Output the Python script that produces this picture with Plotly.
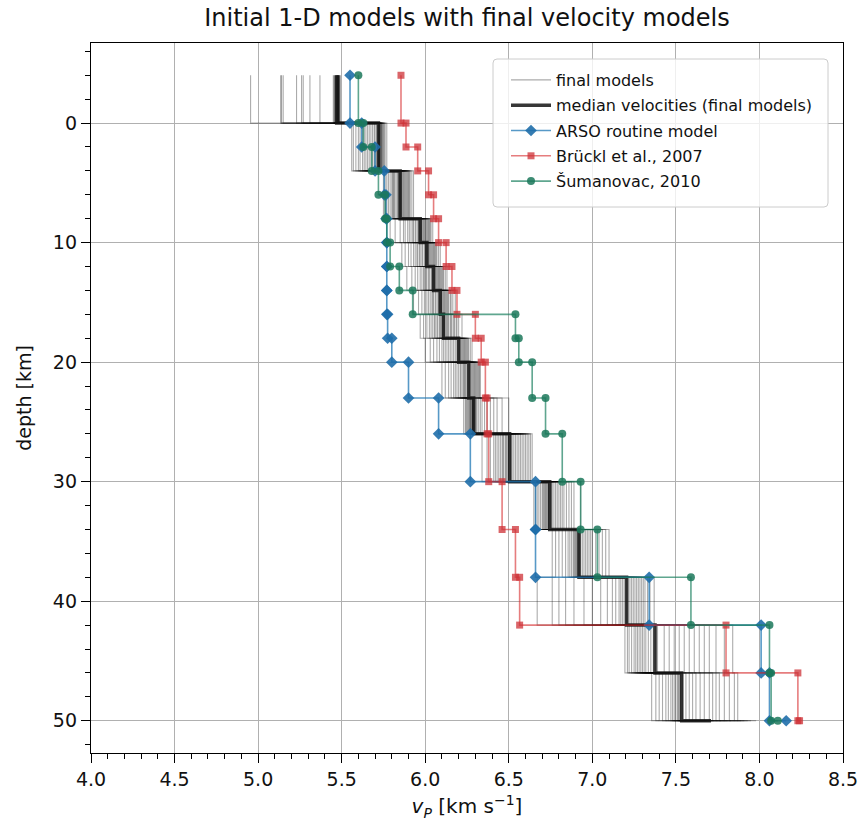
import plotly.graph_objects as go

# ---------------- data ----------------
# layer tops of the final models (last entry = half-space top)
FINAL_TOPS = [-4, 0, 4, 8, 10, 12, 14, 16, 18, 20, 23, 26, 30, 34, 38, 42, 46, 50]

# velocities of the ~30 final models, one list per layer (read/estimated from picture)
FV_L00 = [4.955, 5.135, 5.14, 5.15, 5.23, 5.26, 5.27, 5.31, 5.37, 5.45, 5.455, 5.46, 5.46, 5.465, 5.47,
          5.47, 5.47, 5.475, 5.475, 5.475, 5.48, 5.48, 5.48, 5.48, 5.48, 5.485, 5.485, 5.485, 5.49, 5.49]
FV_L01 = [5.56, 5.57, 5.585, 5.60, 5.61, 5.625, 5.635, 5.645, 5.655, 5.665, 5.675, 5.685, 5.695, 5.70, 5.71,
          5.72, 5.72, 5.725, 5.725, 5.73, 5.73, 5.735, 5.735, 5.74, 5.74, 5.745, 5.75, 5.755, 5.76, 5.77]
FV_L02 = [5.75, 5.76, 5.77, 5.78, 5.79, 5.80, 5.805, 5.81, 5.815, 5.82, 5.83, 5.835, 5.84, 5.845, 5.85,
          5.85, 5.855, 5.86, 5.865, 5.87, 5.875, 5.88, 5.885, 5.89, 5.895, 5.90, 5.905, 5.91, 5.92, 5.93]
FV_L03 = [5.79, 5.82, 5.85, 5.87, 5.88, 5.895, 5.905, 5.915, 5.925, 5.93, 5.94, 5.945, 5.955, 5.96, 5.965,
          5.97, 5.975, 5.98, 5.985, 5.99, 5.995, 6.00, 6.005, 6.01, 6.015, 6.02, 6.025, 6.03, 6.035, 6.045]
FV_L04 = [5.86, 5.88, 5.90, 5.915, 5.93, 5.94, 5.95, 5.955, 5.965, 5.97, 5.98, 5.985, 5.995, 6.00, 6.005,
          6.01, 6.015, 6.02, 6.025, 6.03, 6.035, 6.04, 6.045, 6.05, 6.055, 6.06, 6.065, 6.07, 6.08, 6.09]
FV_L05 = [5.89, 5.92, 5.94, 5.955, 5.97, 5.98, 5.99, 5.995, 6.005, 6.01, 6.02, 6.025, 6.035, 6.04, 6.045,
          6.05, 6.055, 6.06, 6.065, 6.07, 6.075, 6.08, 6.085, 6.09, 6.095, 6.10, 6.105, 6.11, 6.12, 6.13]
FV_L06 = [5.93, 5.96, 5.98, 5.995, 6.01, 6.02, 6.03, 6.04, 6.045, 6.05, 6.06, 6.065, 6.075, 6.08, 6.085,
          6.09, 6.095, 6.10, 6.105, 6.11, 6.115, 6.12, 6.125, 6.13, 6.135, 6.14, 6.15, 6.155, 6.165, 6.18]
FV_L07 = [5.97, 5.99, 6.01, 6.025, 6.035, 6.045, 6.055, 6.06, 6.07, 6.075, 6.085, 6.09, 6.095, 6.10, 6.105,
          6.11, 6.115, 6.125, 6.13, 6.135, 6.14, 6.15, 6.155, 6.16, 6.17, 6.175, 6.185, 6.19, 6.20, 6.22]
FV_L08 = [6.00, 6.03, 6.05, 6.07, 6.085, 6.10, 6.11, 6.12, 6.13, 6.14, 6.15, 6.16, 6.17, 6.18, 6.19,
          6.20, 6.205, 6.21, 6.215, 6.22, 6.225, 6.23, 6.235, 6.24, 6.245, 6.25, 6.255, 6.26, 6.27, 6.28]
FV_L09 = [6.10, 6.12, 6.14, 6.155, 6.17, 6.18, 6.19, 6.20, 6.21, 6.215, 6.225, 6.23, 6.235, 6.24, 6.245,
          6.26, 6.265, 6.27, 6.275, 6.28, 6.285, 6.29, 6.295, 6.30, 6.305, 6.31, 6.315, 6.32, 6.325, 6.33]
FV_L10 = [6.23, 6.24, 6.245, 6.25, 6.255, 6.26, 6.265, 6.27, 6.27, 6.275, 6.28, 6.28, 6.285, 6.285, 6.29,
          6.29, 6.295, 6.30, 6.305, 6.31, 6.32, 6.33, 6.34, 6.355, 6.37, 6.39, 6.41, 6.43, 6.46, 6.50]
FV_L11 = [6.34, 6.37, 6.39, 6.41, 6.42, 6.43, 6.44, 6.45, 6.46, 6.465, 6.47, 6.48, 6.485, 6.49, 6.50,
          6.51, 6.515, 6.52, 6.53, 6.54, 6.55, 6.56, 6.57, 6.58, 6.59, 6.60, 6.61, 6.62, 6.63, 6.64]
FV_L12 = [6.65, 6.66, 6.67, 6.68, 6.69, 6.70, 6.705, 6.71, 6.715, 6.72, 6.725, 6.73, 6.735, 6.74, 6.74,
          6.75, 6.755, 6.76, 6.77, 6.78, 6.79, 6.80, 6.81, 6.82, 6.83, 6.845, 6.86, 6.875, 6.89, 6.93]
FV_L13 = [6.76, 6.78, 6.80, 6.82, 6.84, 6.855, 6.865, 6.875, 6.885, 6.89, 6.895, 6.90, 6.905, 6.91, 6.915,
          6.92, 6.925, 6.93, 6.94, 6.95, 6.96, 6.97, 6.98, 6.99, 7.00, 7.02, 7.04, 7.06, 7.08, 7.10]
FV_L14 = [6.67, 6.76, 6.80, 6.84, 6.89, 6.95, 7.00, 7.05, 7.09, 7.12, 7.14, 7.16, 7.17, 7.18, 7.19,
          7.205, 7.215, 7.225, 7.235, 7.245, 7.255, 7.265, 7.275, 7.285, 7.295, 7.305, 7.315, 7.33, 7.345, 7.37]
FV_L15 = [7.195, 7.21, 7.22, 7.235, 7.25, 7.26, 7.27, 7.28, 7.29, 7.30, 7.31, 7.32, 7.335, 7.35, 7.365,
          7.38, 7.39, 7.43, 7.46, 7.49, 7.52, 7.55, 7.58, 7.61, 7.64, 7.67, 7.70, 7.74, 7.79, 7.84]
FV_L16 = [7.355, 7.38, 7.40, 7.42, 7.44, 7.455, 7.47, 7.48, 7.49, 7.50, 7.51, 7.515, 7.52, 7.525, 7.53,
          7.54, 7.56, 7.58, 7.60, 7.62, 7.645, 7.67, 7.70, 7.72, 7.74, 7.76, 7.79, 7.82, 7.85, 7.87]
FV_L17 = [7.40, 7.45, 7.50, 7.53, 7.56, 7.58, 7.60, 7.62, 7.64, 7.66, 7.67, 7.68, 7.69, 7.70, 7.705,
          7.715, 7.72, 7.73, 7.75, 7.77, 7.79, 7.81, 7.83, 7.85, 7.87, 7.89, 7.91, 7.93, 7.95, 7.98]

FINAL_LAYERS = [FV_L00, FV_L01, FV_L02, FV_L03, FV_L04, FV_L05, FV_L06, FV_L07, FV_L08,
                FV_L09, FV_L10, FV_L11, FV_L12, FV_L13, FV_L14, FV_L15, FV_L16, FV_L17]

MEDIAN_V = [5.47, 5.72, 5.85, 5.97, 6.01, 6.05, 6.09, 6.11, 6.20, 6.26, 6.29, 6.505,
            6.745, 6.92, 7.205, 7.375, 7.535, 7.71]

# initial 1-D models (layer tops and velocities)
REF_TOPS = [-4, 0, 2, 4, 6, 8, 10, 12, 14, 16, 18, 20, 23, 26, 30, 34, 38, 42, 46, 50]
ARSO_V = [5.55, 5.62, 5.70, 5.755, 5.765, 5.77, 5.77, 5.77, 5.77, 5.775, 5.80, 5.90, 6.08, 6.27,
          6.66, 6.66, 7.34, 8.01, 8.06, 8.16]
BRUCKL_V = [5.855, 5.885, 5.955, 6.02, 6.05, 6.08, 6.125, 6.16, 6.19, 6.30, 6.335, 6.36, 6.37, 6.38,
            6.46, 6.54, 6.565, 7.80, 8.23, 8.24]
SUMANOVAC_V = [5.60, 5.63, 5.68, 5.72, 5.76, 5.77, 5.79, 5.845, 5.925, 6.54, 6.56, 6.64, 6.72, 6.82,
               6.93, 7.03, 7.59, 8.06, 8.07, 8.11]

X_TICKS = [4.0, 4.5, 5.0, 5.5, 6.0, 6.5, 7.0, 7.5, 8.0, 8.5]
Y_TICKS = [0, 10, 20, 30, 40, 50]

W, H = 864, 835
PL, PR, PT, PB = 91, 843, 43, 753   # plot area in pixels


def step_model(tops, vels):
    xs, ys = [], []
    n = len(tops)
    for i in range(n - 1):
        xs += [vels[i], vels[i]]
        ys += [tops[i], tops[i + 1]]
    xs.append(vels[-1])
    ys.append(tops[-1])
    return xs, ys


def px(x):
    return (x - PL) / (PR - PL)


def py(y):
    return (PB - y) / (PB - PT)


fig = go.Figure()

# final models (one trace with gaps)
gx, gy = [], []
n_models = len(FV_L00)
for m in range(n_models):
    vm = [layer[m] for layer in FINAL_LAYERS]
    xs, ys = step_model(FINAL_TOPS, vm)
    gx += xs + [None]
    gy += ys + [None]
fig.add_trace(go.Scatter(x=gx, y=gy, mode="lines", name="final models",
                         line=dict(color="rgba(0,0,0,0.33)", width=1.1), legendgroup="a"))

mx, my = step_model(FINAL_TOPS, MEDIAN_V)
fig.add_trace(go.Scatter(x=mx, y=my, mode="lines", name="median velocities (final models)",
                         line=dict(color="rgba(20,20,20,0.85)", width=3.5), legendgroup="b"))

ax, ay = step_model(REF_TOPS, ARSO_V)
fig.add_trace(go.Scatter(x=ax, y=ay, mode="lines+markers", name="ARSO routine model",
                         line=dict(color="rgba(31,119,180,0.75)", width=1.6),
                         marker=dict(symbol="diamond", size=9, color="rgba(31,110,170,0.9)"),
                         legendgroup="c"))

bx, by = step_model(REF_TOPS, BRUCKL_V)
fig.add_trace(go.Scatter(x=bx, y=by, mode="lines+markers", name="Brückl et al., 2007",
                         line=dict(color="rgba(214,39,40,0.6)", width=1.6),
                         marker=dict(symbol="square", size=7, color="rgba(205,50,55,0.75)"),
                         legendgroup="d"))

sx, sy = step_model(REF_TOPS, SUMANOVAC_V)
fig.add_trace(go.Scatter(x=sx, y=sy, mode="lines+markers", name="Šumanovac, 2010",
                         line=dict(color="rgba(27,128,95,0.7)", width=1.6),
                         marker=dict(symbol="circle", size=8, color="rgba(27,120,90,0.85)"),
                         legendgroup="e"))

axis_common = dict(showline=True, linecolor="black", linewidth=1.3, mirror=True,
                   ticks="outside", ticklen=9, tickwidth=1.2, tickcolor="black",
                   showgrid=True, gridcolor="#b0b0b0", gridwidth=1, zeroline=False,
                   automargin=False,
                   tickfont=dict(size=19, color="#111"))

fig.update_xaxes(range=[4.0, 8.5], tickvals=X_TICKS, ticktext=[f"{v:.1f}" for v in X_TICKS],
                 minor=dict(dtick=0.1, ticks="outside", ticklen=5, tickcolor="black", showgrid=False),
                 title=dict(text="<i>v</i><sub><i>P</i></sub> [km s<sup>−1</sup>]",
                            font=dict(size=20, color="#111"), standoff=10),
                 **axis_common)
fig.update_yaxes(range=[52.7, -6.7], tickvals=Y_TICKS,
                 minor=dict(dtick=2, ticks="outside", ticklen=5, tickcolor="black", showgrid=False),
                 title=dict(text="depth [km]", font=dict(size=19, color="#111"), standoff=16),
                 **axis_common)

# legend frame (rounded, drawn as a shape so its size matches the reference)
lx0, lx1, ly0, ly1, r = px(493), px(828), py(59), py(207), 4
rx, ry = r / (PR - PL), r / (PB - PT)
legend_path = (f"M {lx0 + rx} {ly0} L {lx1 - rx} {ly0} Q {lx1} {ly0} {lx1} {ly0 - ry} "
               f"L {lx1} {ly1 + ry} Q {lx1} {ly1} {lx1 - rx} {ly1} "
               f"L {lx0 + rx} {ly1} Q {lx0} {ly1} {lx0} {ly1 + ry} "
               f"L {lx0} {ly0 - ry} Q {lx0} {ly0} {lx0 + rx} {ly0} Z")
fig.add_shape(type="path", path=legend_path, xref="paper", yref="paper", layer="above",
              fillcolor="rgba(255,255,255,0.8)", line=dict(color="#cccccc", width=1))

fig.update_layout(
    width=W, height=H,
    margin=dict(l=PL, r=W - PR, t=PT, b=H - PB),
    paper_bgcolor="white", plot_bgcolor="white",
    font=dict(family="DejaVu Sans", color="#111"),
    title=dict(text="Initial 1-D models with final velocity models",
               x=467 / W, xanchor="center", y=1 - 18 / H, yanchor="middle",
               font=dict(size=24, color="#111")),
    legend=dict(x=px(506), y=py(63), xanchor="left", yanchor="top",
                bgcolor="rgba(0,0,0,0)", borderwidth=0,
                font=dict(size=16, color="#111"), tracegroupgap=1.5, itemwidth=40,
                traceorder="grouped"),
    showlegend=True,
)

fig.write_html("out.html", config={"displayModeBar": False},
               post_script="document.body.style.margin='0px';")
